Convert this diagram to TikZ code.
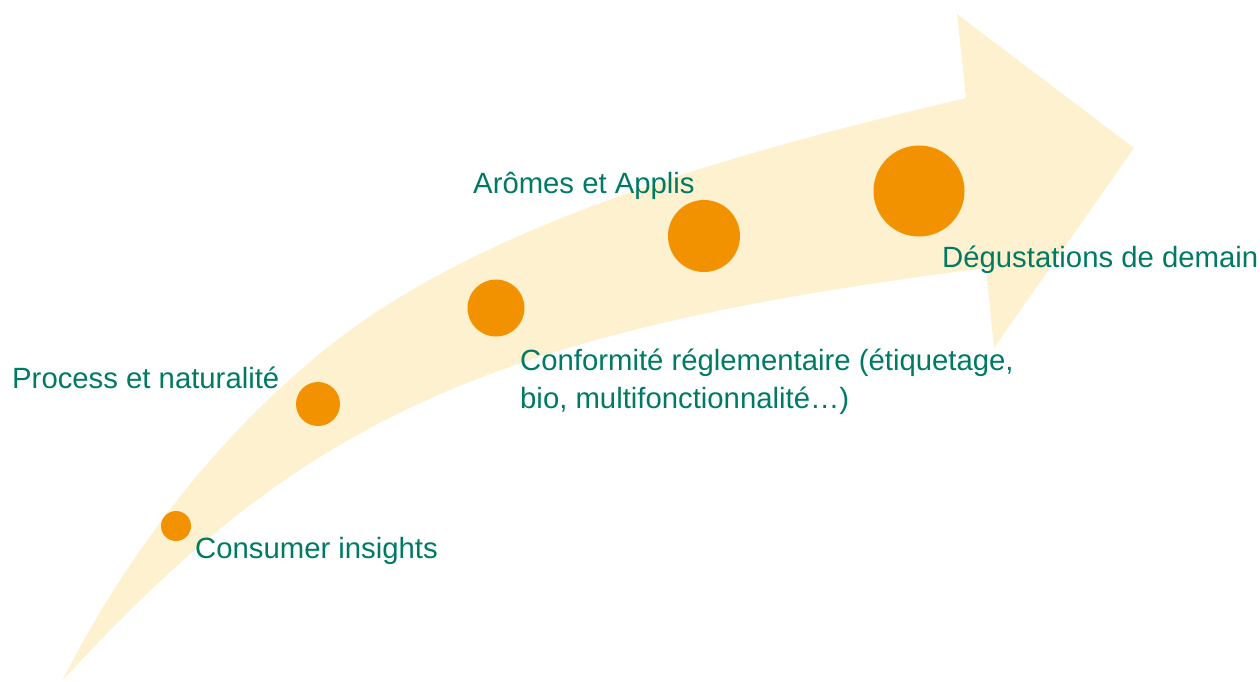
\documentclass[tikz,border=0pt]{standalone}
\usepackage{fontspec}
\setmainfont{Liberation Sans}
\definecolor{band}{RGB}{254,241,207}
\definecolor{dot}{RGB}{243,146,0}
\definecolor{txt}{RGB}{0,122,101}
\begin{document}
\begin{tikzpicture}[x=1pt,y=-1pt,
  dotnode/.style={circle,fill=dot,draw=none,inner sep=0pt,minimum size=#1},
  lbl/.style={text=txt,inner sep=0pt,anchor=base west,font=\fontsize{29.3}{38}\selectfont,align=left}]
\useasboundingbox (0,0) rectangle (1260,681);
% curved arrow band
\fill[band] (62,681)
  .. controls (128,551) and (222,429) .. (337,340)
  .. controls (499,215) and (766,145) .. (966,98)
  -- (957,14) -- (1134,148) -- (994,348) -- (986,268)
  .. controls (474,332.5) and (296.5,426.4) .. (62,681)
  -- cycle;
% dots
\node[dotnode=30pt] (d1) at (176,526) {};
\node[dotnode=44pt] (d2) at (318,404) {};
\node[dotnode=57pt] (d3) at (496,308) {};
\node[dotnode=72pt] (d4) at (704,236) {};
\node[dotnode=91pt] (d5) at (919,191) {};
% labels
\node[lbl] (t1) at (195,558) {Consumer insights};
\node[lbl] (t2) at (12,388) {Process et naturalité};
\node[lbl] (t3) at (520,408) {Conformité réglementaire (étiquetage,\\bio, multifonctionnalité…)};
\node[lbl] (t4) at (473,193) {Arômes et Applis};
\node[lbl] (t5) at (942,267) {Dégustations de demain};
\end{tikzpicture}
\end{document}
